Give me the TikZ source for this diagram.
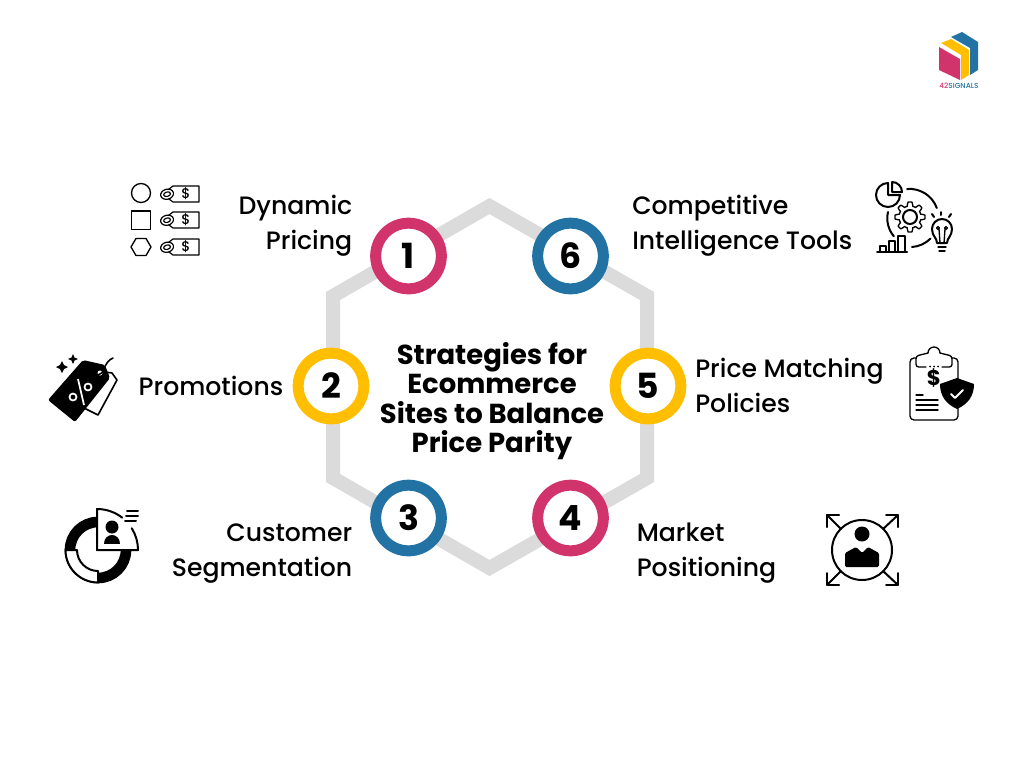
\documentclass[tikz,border=0pt]{standalone}
\usepackage{fontspec}
\setmainfont{Poppins}[UprightFont=* Medium, BoldFont=* Bold]
\definecolor{ringpink}{HTML}{D1336B}
\definecolor{ringblue}{HTML}{2272A4}
\definecolor{ringyellow}{HTML}{FFBE00}
\definecolor{hexgray}{HTML}{DBDBDB}
\tikzset{
  numring/.style={circle, draw=#1, line width=8.25pt, fill=white, minimum size=49.25pt, inner sep=0pt, font=\fontsize{26}{26}\selectfont\bfseries, text=black},
  stratlabel/.style={inner sep=0pt, font=\fontsize{18.85}{26.25}\selectfont},
  iconline/.style={draw=black, line width=1pt, line join=round, line cap=round},
  iconthick/.style={draw=black, line width=1.5pt, line join=round, line cap=round},
  pricetag/.pic={
    \draw[iconline, line width=0.9pt] (7,-8) -- (33,-8) -- (33,8) -- (7,8) -- (-1,2) -- (-1,-2) -- cycle;
    \draw[iconline, line width=0.9pt, fill=white, rotate=15] (1,0.5) ellipse (6.5 and 5);
    \draw[iconline, line width=0.9pt, fill=white, rotate=15] (1,0.5) ellipse (3.5 and 2.2);
    \node[inner sep=0pt, font=\fontsize{10.5}{10.5}\selectfont] at (20,0) {\$};
  }
}
\begin{document}
\begin{tikzpicture}[x=0.75pt, y=-0.75pt]
    \useasboundingbox (0,0) rectangle (1024,768);

      % hexagon behind the rings
      \coordinate (hextop) at (489.5,206);
      \coordinate (hexur) at (647,296);
      \coordinate (hexlr) at (647,478);
      \coordinate (hexbot) at (489.5,568);
      \coordinate (hexll) at (333,478);
      \coordinate (hexul) at (333,296);
      \draw[hexgray, line width=10.5pt, line join=miter] (hextop) -- (hexur) -- (hexlr) -- (hexbot) -- (hexll) -- (hexul) -- cycle;

      \node[numring=ringpink] (ring1) at (408.5,256) {1};
      \node[numring=ringyellow] (ring2) at (331,386) {2};
      \node[numring=ringblue] (ring3) at (408.5,518) {3};
      \node[numring=ringpink] (ring4) at (570.5,518) {4};
      \node[numring=ringyellow] (ring5) at (648,386) {5};
      \node[numring=ringblue] (ring6) at (570.5,256) {6};

      \node[inner sep=0pt, align=center, font=\fontsize{20.6}{22.1}\selectfont\bfseries] (title) at (492,401) {Strategies for\\Ecommerce\\Sites to Balance\\Price Parity};

      \node[stratlabel, align=right, anchor=east] (dynamic) at (352.5,226) {Dynamic\\Pricing};
      \node[stratlabel, anchor=east] (promotions) at (283.5,386) {Promotions};
      \node[stratlabel, align=right, anchor=east] (customer) at (352.5,554) {Customer\\Segmentation};
      \node[stratlabel, align=left, anchor=west] (market) at (636.5,553) {Market\\Positioning};
      \node[stratlabel, align=left, anchor=west] (matching) at (695,385) {Price Matching\\Policies};
      \node[stratlabel, align=left, anchor=west] (competitive) at (632,226) {Competitive\\Intelligence Tools};

      % dynamic pricing icon
      \draw[iconline] (141,193) circle (9.5);
      \draw[iconline] (131.5,211) rectangle (150.5,229.5);
      \draw[iconline] (131,247) -- (136,238.5) -- (146,238.5) -- (151,247) -- (146,255.5) -- (136,255.5) -- cycle;
      \pic at (166,194) {pricetag};
      \pic at (166,220) {pricetag};
      \pic at (166,247) {pricetag};

      % promotions icon
      \draw[iconline, line width=1.2pt, fill=white] (105,372) -- (112,373) -- (117,380) -- (98,415) -- (84,408) -- cycle;
      \fill[black, rounded corners=1.5] (83,360) -- (105,365) -- (110,378) -- (75,422) -- (48,400) -- cycle;
      \fill[white] (100,373) circle (2.5);
      \draw[iconline, line width=1.2pt] (98,375) .. controls (104,374) and (104,366) .. (107,363) .. controls (109,360) and (111,359) .. (113,358);
      \draw[white, line width=1.3pt] (73,397) circle (3.5);
      \draw[white, line width=1.3pt] (88,387) circle (3.5);
      \draw[white, line width=1.3pt] (78,379) -- (84,405);
      \fill[black] (62,361) -- (64,365) -- (68,367) -- (64,369) -- (62,373) -- (60,369) -- (56,367) -- (60,365) -- cycle;
      \fill[black] (73,354) -- (74.5,357.5) -- (78,359) -- (74.5,360.5) -- (73,364) -- (71.5,360.5) -- (68,359) -- (71.5,357.5) -- cycle;

      % segmentation icon
      \draw[black, line width=8pt] (98,550) circle (28);
      \draw[iconthick, fill=white] (65.5,550) arc (180:90:32.5) -- (98,571) arc (90:180:21) -- cycle;
      \fill[white] (97,550) -- (97,509) arc (-90:0:41) -- cycle;
      \draw[iconthick] (97,550) -- (97,509) arc (-90:-52:41);
      \draw[iconthick] (97,550) -- (138,550) arc (0:-32:41);
      \fill[black] (112,527) circle (6.5);
      \fill[black] (104,544) .. controls (104,532) and (120,532) .. (120,544) -- cycle;
      \draw[iconthick] (127,511) -- (138,511);
      \draw[iconthick] (126,516) -- (138,516);
      \draw[iconthick] (125,521) -- (136,521);

      % positioning icon
      \draw[iconthick] (862,550) circle (30);
      \fill[black] (862,534) circle (7.5);
      \fill[black, rounded corners=1] (845,567) -- (845,553) -- (856,547) -- (862,553) -- (868,547) -- (879,553) -- (879,567) -- cycle;
      \coordinate (armul) at (827,515);
      \coordinate (armur) at (898,515);
      \coordinate (armll) at (827,585);
      \coordinate (armlr) at (898,585);
      \draw[iconthick] (841,529) -- (armul);
      \draw[iconthick] (827,527) -- (armul) -- (839,515);
      \draw[iconthick] (883,529) -- (armur);
      \draw[iconthick] (886,515) -- (armur) -- (898,527);
      \draw[iconthick] (841,571) -- (armll);
      \draw[iconthick] (827,573) -- (armll) -- (839,585);
      \draw[iconthick] (883,571) -- (armlr);
      \draw[iconthick] (898,573) -- (armlr) -- (886,585);

      % matching policies icon
      \draw[iconline, rounded corners=3] (916,358) -- (910,358) -- (910,420) -- (958,420) -- (958,404);
      \draw[iconline, rounded corners=3] (952,358) -- (958,358) -- (958,380);
      \draw[iconline, rounded corners=2] (926,367) -- (916,367) -- (916,356) -- (928,353);
      \draw[iconline, rounded corners=2] (942,367) -- (952,367) -- (952,356) -- (940,353);
      \draw[iconline] (928,353) arc (180:360:6);
      \fill[black] (930,366.5) circle (1);
      \fill[black] (934,366.5) circle (1);
      \fill[black] (938,366.5) circle (1);
      \node[inner sep=0pt, font=\fontsize{16}{16}\selectfont\bfseries] (dollar) at (934,378) {\$};
      \draw[iconline] (916,395) -- (923,395);
      \draw[iconline] (916,400) -- (938,400);
      \draw[iconline] (916,405) -- (938,405);
      \draw[iconline] (916,410) -- (938,410);
      \fill[black] (957,378) -- (974,384) .. controls (974,396) and (968,404) .. (957,409) .. controls (946,404) and (940,396) .. (940,384) -- cycle;
      \draw[white, line width=1.5pt, line cap=round, line join=round] (951,394) -- (955,398) -- (963,390);

      % intelligence tools icon
      \draw[iconthick] (888,183) arc (-90:-360:12) -- (888,195) -- cycle;
      \draw[iconthick] (892,182) -- (892,192) -- (902,192) arc (0:-90:10);
      \draw[iconthick] (907,189) arc (-95:-20:29);
      \draw[iconthick] (888,212) arc (193:140:28);
      \draw[iconthick] (912,247) arc (86:45:29);
      \draw[iconline] plot[domain=0:360, samples=97] ({910+(13+2*sign(cos(8*\x)))*cos(\x)}, {217+(13+2*sign(cos(8*\x)))*sin(\x)}) -- cycle;
      \draw[iconthick] (910,217) circle (7);
      \draw[iconthick] (877,252) -- (907,252);
      \draw[iconthick] (880,252) -- (880,246) -- (886,246) -- (886,252);
      \draw[iconthick] (889,252) -- (889,241) -- (895,241) -- (895,252);
      \draw[iconthick] (898,252) -- (898,236) -- (905,236) -- (905,252);
      \draw[iconthick] (937,243) .. controls (937,238) and (932,236) .. (932,229) arc (180:360:10) .. controls (952,236) and (947,238) .. (947,243) -- cycle;
      \draw[iconline] (938,247) -- (946,247);
      \draw[iconline] (939,251) -- (945,251);
      \draw[iconline] (940,243) -- (939,229) (944,243) -- (945,229);
      \draw[iconline] (938,228) circle (1.5);
      \draw[iconline] (946,228) circle (1.5);
      \draw[iconthick] (941,212) -- (941,215);
      \draw[iconthick] (932,214) -- (934,217);
      \draw[iconthick] (951,214) -- (949,217);

      % logo
      \fill[ringblue] (951,37) -- (962,32) -- (978,42) -- (978,70) -- (970,75) -- (970,48) -- cycle;
      \fill[ringyellow] (941,43) -- (951,39) -- (969,50) -- (969,75) -- (961,80) -- (961,55) -- cycle;
      \fill[ringpink] (939,47) -- (960,59) -- (960,80) -- (939,70) -- cycle;
      \node[inner sep=0pt, font=\fontsize{5.5}{5.5}\selectfont] (logotext) at (959,86) {\textcolor{ringpink}{42}\textcolor{ringblue}{SIGNALS}};

\end{tikzpicture}
\end{document}
